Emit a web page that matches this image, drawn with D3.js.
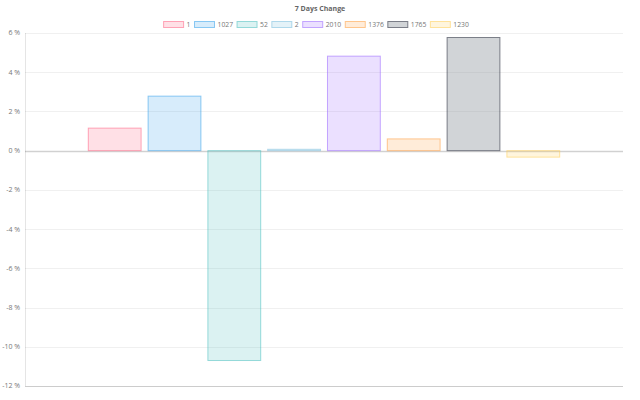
<!DOCTYPE html>
<meta charset="utf-8">
<style>
html,body { margin:0; padding:0; background:#fff; }
svg { display:block; font-family: "Open Sans", "DejaVu Sans", sans-serif; }
</style>
<svg width="640" height="400"></svg>
<script src="https://d3js.org/d3.v7.min.js"></script>
<script>
var title = "7 Days Change";
var names = ["1", "1027", "52", "2", "2010", "1376", "1765", "1230"];
var values = [1.15, 2.78, -10.7, 0.07, 4.82, 0.6, 5.77, -0.33];
var yTicks = [6, 4, 2, 0, -2, -4, -6, -8, -10, -12];
var borders = ["rgba(255,99,132,0.55)", "rgba(54,162,235,0.55)", "rgba(75,192,192,0.55)", "rgba(120,190,220,0.55)",
               "rgba(153,102,255,0.55)", "rgba(255,159,64,0.55)", "rgba(50,55,70,0.6)", "rgba(255,205,86,0.55)"];
var fills = ["rgba(255,99,132,0.2)", "rgba(54,162,235,0.2)", "rgba(75,192,192,0.2)", "rgba(120,190,220,0.2)",
             "rgba(153,102,255,0.2)", "rgba(255,159,64,0.2)", "rgba(140,148,156,0.4)", "rgba(255,205,86,0.2)"];

var svg = d3.select("svg"),
    margin = {top: 33, right: 17, bottom: 14, left: 25},
    width = 640 - margin.left - margin.right,
    height = 400 - margin.top - margin.bottom,
    g = svg.append("g").attr("transform", "translate(" + margin.left + "," + margin.top + ")");

var y = d3.scaleLinear().domain([-12, 6]).range([height, 0]);
var x = d3.scaleBand().domain(names)
    .range([width * 0.1, width * 0.9])
    .paddingInner(0.1).paddingOuter(0.05);

// title
svg.append("text")
    .attr("x", 320).attr("y", 11)
    .attr("text-anchor", "middle")
    .attr("font-size", 7).attr("font-weight", "bold")
    .attr("fill", "#666")
    .text(title);

// legend
var legend = svg.append("g");
var lx = 0;
names.forEach(function(n, i) {
  var it = legend.append("g").attr("transform", "translate(" + lx + ",0)");
  it.append("rect").attr("x", 0.5).attr("y", 21.5).attr("width", 20).attr("height", 6)
    .attr("fill", fills[i]).attr("stroke", borders[i]).attr("stroke-width", 1);
  var t = it.append("text").attr("x", 23.5).attr("y", 27.3)
    .attr("font-size", 6.8).attr("fill", "#777").text(n);
  lx += 23.5 + t.node().getComputedTextLength() + 3.5;
});
legend.attr("transform", "translate(" + (316 - (lx - 3.5) / 2) + ",0)");

// grid
g.selectAll(".grid").data(yTicks).enter().append("line")
    .attr("x1", 0).attr("x2", width)
    .attr("y1", function(d) { return Math.round(y(d)) + 0.5; })
    .attr("y2", function(d) { return Math.round(y(d)) + 0.5; })
    .attr("stroke", function(d) { return d === 0 ? "rgba(0,0,0,0.18)" : "rgba(0,0,0,0.06)"; })
    .attr("stroke-width", function(d) { return d === 0 ? 1.5 : 1; });

// axis lines
g.append("line").attr("x1", 0.5).attr("x2", 0.5).attr("y1", 0).attr("y2", height)
    .attr("stroke", "rgba(0,0,0,0.1)");
g.append("line").attr("x1", 0).attr("x2", width)
    .attr("y1", Math.round(y(-12)) + 0.5).attr("y2", Math.round(y(-12)) + 0.5)
    .attr("stroke", "rgba(0,0,0,0.15)");

// tick labels
g.selectAll(".tl").data(yTicks).enter().append("text")
    .attr("x", -5)
    .attr("y", function(d) { return y(d); })
    .attr("dy", "0.35em")
    .attr("text-anchor", "end")
    .attr("font-size", 7).attr("fill", "#777")
    .text(function(d) { return d + " %"; });

// bars
g.selectAll(".bar").data(values).enter().append("rect")
    .attr("x", function(d, i) { return x(names[i]) + 0.5; })
    .attr("width", x.bandwidth() - 1)
    .attr("y", function(d) { return y(Math.max(0, d)); })
    .attr("height", function(d) { return Math.abs(y(d) - y(0)); })
    .attr("fill", function(d, i) { return fills[i]; })
    .attr("stroke", function(d, i) { return borders[i]; })
    .attr("stroke-width", 1);
</script>
